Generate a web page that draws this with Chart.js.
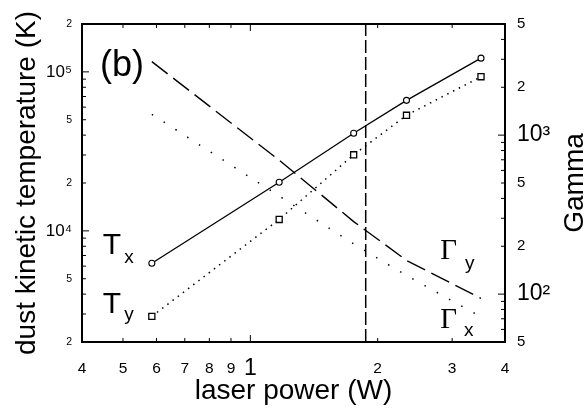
<!DOCTYPE html>
<html><head><meta charset="utf-8">
<script src="https://cdn.jsdelivr.net/npm/chart.js@4.4.1/dist/chart.umd.min.js"></script>
<style>html,body{margin:0;padding:0;background:#fff;} #wrap{width:587px;height:415px;position:relative;}</style>
</head><body><div id="wrap"><canvas id="c"></canvas></div>
<script>
// ---- data ----
const power = [0.585, 1.17, 1.755, 2.34, 3.51];          // laser power (W)
const tempX = [6250, 20200, 41100, 66200, 122000];        // T_x (K)
const tempY = [2900, 11800, 30100, 53300, 93200];         // T_y (K)
const gammaY = [2900, 696, 286, 163, 94];                 // Gamma_y
const gammaX = [1352, 414, 207, 131, 72];                 // Gamma_x
const thresholdPower = 1.874;                             // vertical dashed line

// ---- tick labels ----
const xTickValues = [0.4, 0.5, 0.6, 0.7, 0.8, 0.9, 1, 2, 3, 4];
const xTickLabels = ['4', '5', '6', '7', '8', '9', '1', '2', '3', '4'];
const leftTickValues = [2000, 5000, 10000, 20000, 50000, 100000, 200000];
const leftTickLabels = ['2', '5', '10\u2074', '2', '5', '10\u2075', '2'];
const rightTickValues = [50, 100, 200, 500, 1000, 2000, 5000];
const rightTickLabels = ['5', '10\u00B2', '2', '5', '10\u00B3', '2', '5'];

const SANS = "'Liberation Sans', Arial, sans-serif";
const SERIF = "'Liberation Serif', 'DejaVu Serif', serif";

function minorTicks(lo, hi) {
  const out = [];
  for (let e = Math.floor(Math.log10(lo)); e <= Math.ceil(Math.log10(hi)); e++) {
    for (let m = 1; m <= 9; m++) {
      const v = m * Math.pow(10, e);
      if (v >= lo * 0.999 && v <= hi * 1.001) out.push(v);
    }
  }
  return out;
}
function isDecade(v) { const l = Math.log10(v); return Math.abs(l - Math.round(l)) < 1e-6; }

const framePlugin = {
  id: 'frame',
  afterDatasetsDraw(chart) {
    const { ctx, chartArea: a, scales } = chart;
    ctx.save();
    ctx.strokeStyle = '#000';
    ctx.lineWidth = 1;
    const seg = (x1, y1, x2, y2) => { ctx.beginPath(); ctx.moveTo(x1, y1); ctx.lineTo(x2, y2); ctx.stroke(); };
    for (const v of minorTicks(0.4, 4)) {
      const px = scales.x.getPixelForValue(v);
      const L = isDecade(v) ? 7 : 4;
      seg(px, a.bottom, px, a.bottom - L);
      seg(px, a.top, px, a.top + L);
    }
    for (const v of minorTicks(2000, 200000)) {
      const py = scales.y.getPixelForValue(v);
      const L = isDecade(v) ? 7 : 4;
      seg(a.left, py, a.left + L, py);
    }
    for (const v of minorTicks(50, 5000)) {
      const py = scales.y2.getPixelForValue(v);
      const L = isDecade(v) ? 7 : 4;
      seg(a.right, py, a.right - L, py);
    }
    ctx.lineWidth = 2;
    ctx.strokeRect(a.left, a.top, a.right - a.left, a.bottom - a.top);

    // annotations
    ctx.fillStyle = '#000';
    ctx.textBaseline = 'middle';
    ctx.textAlign = 'left';
    const X = v => scales.x.getPixelForValue(v);
    const YL = v => scales.y.getPixelForValue(v);
    const YR = v => scales.y2.getPixelForValue(v);
    ctx.font = '36px ' + SANS;
    ctx.fillText('(b)', X(0.441), YL(108000));

    function sub(main, mainFont, s, x, y, dx, dy) {
      ctx.font = mainFont;
      ctx.fillText(main, x, y);
      const w = ctx.measureText(main).width;
      ctx.font = '19px ' + SANS;
      ctx.fillText(s, x + w + dx, y + dy);
    }
    sub('T', '30px ' + SANS, 'x', X(0.448), YL(8030), 3, 12);
    sub('T', '30px ' + SANS, 'y', X(0.448), YL(3418), 3, 10);
    sub('\u0393', '29px ' + SERIF, 'y', X(2.81), YR(185), 8, 12);
    sub('\u0393', '29px ' + SERIF, 'x', X(2.81), YR(68.7), 7, 11);

    // right axis title (reads bottom to top)
    ctx.save();
    ctx.translate(575, (a.top + a.bottom) / 2);
    ctx.rotate(-Math.PI / 2);
    ctx.textAlign = 'center';
    ctx.font = '28px ' + SANS;
    ctx.fillText('Gamma', 0, 0);
    ctx.restore();
    ctx.restore();
  }
};

const pts = ys => power.map((p, i) => ({ x: p, y: ys[i] }));

new Chart(document.getElementById('c'), {
  type: 'line',
  data: {
    datasets: [
      { data: pts(tempX), yAxisID: 'y', borderColor: '#000', borderWidth: 1.3, tension: 0,
        pointStyle: 'circle', pointRadius: 3, pointBackgroundColor: '#fff', pointBorderColor: '#000', pointBorderWidth: 1.1 },
      { data: pts(tempY), yAxisID: 'y', borderColor: '#000', borderWidth: 1.5, borderDash: [1.5, 5], tension: 0,
        pointStyle: 'rect', pointRadius: 4.3, pointBackgroundColor: '#fff', pointBorderColor: '#000', pointBorderWidth: 1.3 },
      { data: pts(gammaY), yAxisID: 'y2', borderColor: '#000', borderWidth: 1.4, borderDash: [20, 7], tension: 0, pointRadius: 0 },
      { data: pts(gammaX), yAxisID: 'y2', borderColor: '#000', borderWidth: 1.5, borderDash: [1.5, 12.5], tension: 0, pointRadius: 0 },
      { data: [{ x: thresholdPower, y: 2000 }, { x: thresholdPower, y: 200000 }], yAxisID: 'y',
        borderColor: '#000', borderWidth: 1.5, borderDash: [13, 4], pointRadius: 0 }
    ]
  },
  options: {
    responsive: true, maintainAspectRatio: false, animation: false,
    layout: { padding: { top: 24, left: 0, right: 0, bottom: 0 } },
    plugins: { legend: { display: false }, tooltip: { enabled: false } },
    scales: {
      x: {
        type: 'logarithmic', position: 'bottom', min: 0.4, max: 4,
        afterBuildTicks: s => { s.ticks = xTickValues.map(v => ({ value: v })); },
        afterFit: s => { s.height = 73; },
        grid: { display: false, drawTicks: false }, border: { display: false },
        ticks: { autoSkip: false, maxRotation: 0, padding: 17, color: '#000',
          callback: v => xTickLabels[xTickValues.indexOf(v)],
          font: c => ((c.tick && c.tick.value === 1)
            ? { family: SANS, size: 23, lineHeight: 0.8 }
            : { family: SANS, size: 15.5, lineHeight: 1.2 }) },
        title: { display: true, text: 'laser power (W)', color: '#000', font: { family: SANS, size: 28 }, padding: { top: 7, bottom: 7 } }
      },
      y: {
        type: 'logarithmic', position: 'left', min: 2000, max: 200000,
        afterBuildTicks: s => { s.ticks = leftTickValues.map(v => ({ value: v })); },
        afterFit: s => { s.width = 82; },
        grid: { display: false, drawTicks: false }, border: { display: false },
        ticks: { autoSkip: false, padding: 10, color: '#000',
          callback: v => leftTickLabels[leftTickValues.indexOf(v)],
          font: c => ({ family: SANS, size: (c.tick && isDecade(c.tick.value)) ? 17 : 10.5 }) },
        title: { display: true, text: 'dust kinetic temperature (K)', color: '#000', font: { family: SANS, size: 28 }, padding: { top: 10, bottom: 10 } }
      },
      y2: {
        type: 'logarithmic', position: 'right', min: 50, max: 5000,
        afterBuildTicks: s => { s.ticks = rightTickValues.map(v => ({ value: v })); },
        afterFit: s => { s.width = 82; },
        grid: { display: false, drawTicks: false }, border: { display: false },
        ticks: { autoSkip: false, padding: 12, color: '#000',
          callback: v => rightTickLabels[rightTickValues.indexOf(v)],
          font: c => ({ family: SANS, size: (c.tick && isDecade(c.tick.value)) ? 23 : 15 }) }
      }
    }
  },
  plugins: [framePlugin]
});
</script>
</body></html>
